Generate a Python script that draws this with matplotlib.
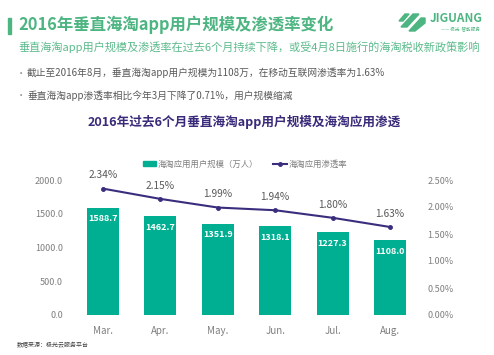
import matplotlib
matplotlib.use("Agg")
import matplotlib.pyplot as plt
from matplotlib.patches import Rectangle, Polygon
from matplotlib.lines import Line2D

plt.rcParams['font.family'] = ['Noto Sans CJK SC', 'DejaVu Sans']

months = ["Mar.", "Apr.", "May.", "Jun.", "Jul.", "Aug."]
users = [1588.7, 1462.7, 1351.9, 1318.1, 1227.3, 1108.0]
rate = [2.34, 2.15, 1.99, 1.94, 1.80, 1.63]
left_ticks = [0, 500, 1000, 1500, 2000]
right_ticks = [0.0, 0.5, 1.0, 1.5, 2.0, 2.5]

W, H = 494, 355
fig = plt.figure(figsize=(W / 100, H / 100), dpi=100)
fig.patch.set_facecolor("white")

def fx(px):
    return px / W

def fy(py):
    return 1 - py / H

GREEN = "#4db581"
BAR = "#00af91"
LINE = "#3b2d7d"
GRAY = "#7f7f7f"

# header
fig.patches.append(Rectangle((fx(8), fy(34)), fx(3), 16 / H, transform=fig.transFigure,
                             color=GREEN, zorder=3))
fig.text(fx(18), fy(25), "2016年垂直海淘app用户规模及渗透率变化", fontsize=11.8,
         fontweight="bold", color=GREEN, va="center", ha="left")
fig.text(fx(18), fy(47), "垂直海淘app用户规模及渗透率在过去6个月持续下降，或受4月8日施行的海淘税收新政策影响",
         fontsize=8.05, color="#5cbb8c", va="center", ha="left")
fig.text(fx(17), fy(73), "•", fontsize=6, color=GRAY, va="center", ha="left")
fig.text(fx(27), fy(73), "截止至2016年8月，垂直海淘app用户规模为1108万，在移动互联网渗透率为1.63%",
         fontsize=7.0, color="#595959", va="center", ha="left")
fig.text(fx(17), fy(96), "•", fontsize=6, color=GRAY, va="center", ha="left")
fig.text(fx(27), fy(96), "垂直海淘app渗透率相比今年3月下降了0.71%，用户规模缩减",
         fontsize=7.0, color="#595959", va="center", ha="left")
fig.text(fx(244), fy(122), "2016年过去6个月垂直海淘app用户规模及海淘应用渗透", fontsize=9.1,
         fontweight="bold", color="#3a2a7a", va="center", ha="center")

# logo
logo_icon = [
    [(401, 27), (413, 14), (419, 14), (407, 27)],
    [(409, 31), (421, 18), (425, 18), (425, 23), (415, 31)],
    [(399, 21), (405, 14), (409, 14), (403, 21)],
]
for pts in logo_icon:
    fig.patches.append(Polygon([(fx(x), fy(y)) for x, y in pts], closed=True,
                               transform=fig.transFigure, color=GREEN, zorder=3))
fig.text(fx(430), fy(19), "JIGUANG", fontsize=8.5, fontweight="bold", color=GREEN,
         va="center", ha="left")
fig.text(fx(480), fy(29), "—— 极光  智能服务", fontsize=3.3, color=GREEN, va="center", ha="right")

# chart
ax = fig.add_axes([fx(70), fy(315), 353 / W, 135 / H])
x = list(range(len(months)))
ax.bar(x, users, width=0.56, color=BAR, zorder=2, label="海淘应用用户规模（万人）")
ax.set_xlim(-0.575, 5.575)
ax.set_ylim(0, 2000)
ax.set_yticks(left_ticks)
ax.set_yticklabels([f"{v:.1f}" for v in left_ticks])
ax.set_xticks(x)
ax.set_xticklabels(months)
ax.tick_params(axis="both", length=0, labelsize=6.5, colors=GRAY)
ax.tick_params(axis="y", pad=5)
ax.tick_params(axis="x", pad=8, labelsize=7)
for s in ax.spines.values():
    s.set_visible(False)
for xi, v in zip(x, users):
    ax.annotate(f"{v:.1f}", (xi, v), xytext=(0, -8), textcoords="offset points",
                ha="center", va="center", color="white", fontsize=6.5, fontweight="bold")

ax2 = ax.twinx()
ax2.plot(x, rate, color=LINE, linewidth=1.5, marker="o", markersize=2.5, zorder=3,
         label="海淘应用渗透率")
ax2.set_ylim(0, 2.5)
ax2.set_yticks(right_ticks)
ax2.set_yticklabels([f"{v:.2f}%" for v in right_ticks])
ax2.tick_params(axis="y", length=0, labelsize=6.5, colors=GRAY, pad=3)
for s in ax2.spines.values():
    s.set_visible(False)
for xi, v in zip(x, rate):
    ax2.annotate(f"{v:.2f}%", (xi, v), xytext=(0, 9.5), textcoords="offset points",
                 ha="center", va="center", color="#595959", fontsize=7.3)

handles = [Rectangle((0, 0), 1, 1, color=BAR),
           Line2D([0], [0], color=LINE, linewidth=1.5, marker="o", markersize=2.5)]
labels = ["海淘应用用户规模（万人）", "海淘应用渗透率"]
leg = fig.legend(handles, labels, loc="center", bbox_to_anchor=(fx(245), fy(164)), ncol=2,
                 frameon=False, fontsize=6, handlelength=1.6, handleheight=0.5,
                 columnspacing=1.8, handletextpad=0.2)
for t in leg.get_texts():
    t.set_color(GRAY)

fig.text(fx(17), fy(345), "数据来源：极光云服务平台", fontsize=4.3, color="#404040",
         va="center", ha="left")

fig.savefig("out.png", dpi=100, facecolor="white")
